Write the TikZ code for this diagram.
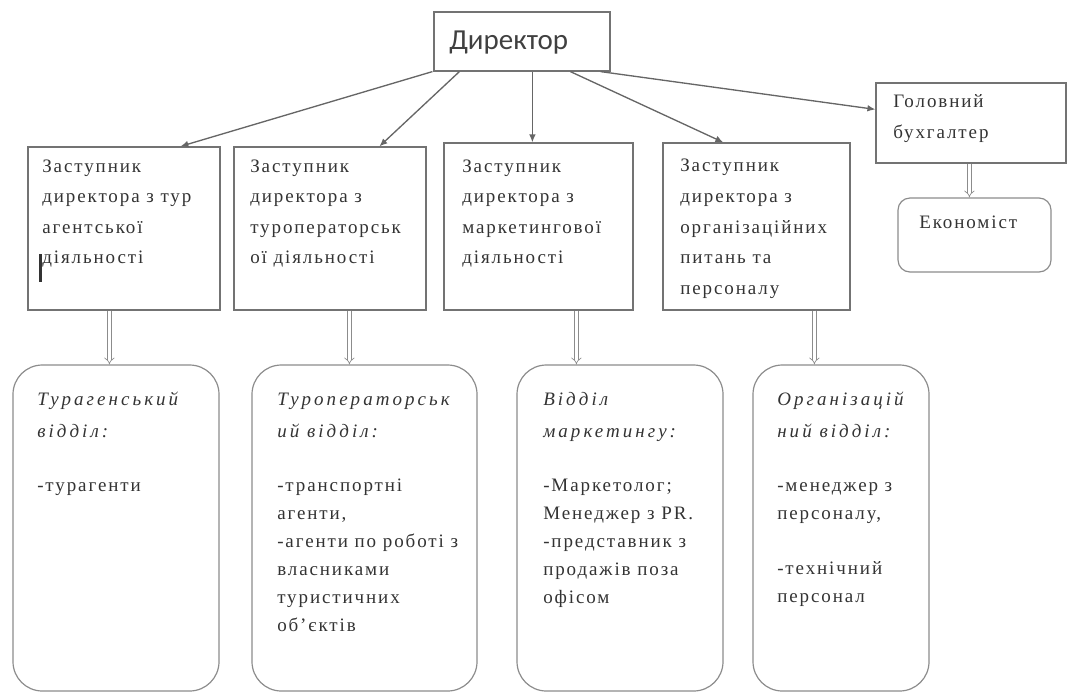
\documentclass[tikz,border=0pt]{standalone}
\usepackage{fontspec}
\setmainfont{Liberation Serif}
\newfontfamily\boxfont{Liberation Serif}[LetterSpace=10]
\newfontfamily\hdfont{Liberation Serif}[LetterSpace=16]
\newfontfamily\headfont{Carlito}
\newcommand{\hd}[1]{{\hdfont\itshape #1}}
\usetikzlibrary{arrows.meta}
\tikzset{%
    box/.style={draw=black!55,line width=0.9pt,inner sep=0pt},
    rbox/.style={draw=black!45,line width=0.9pt,rounded corners=22pt,inner sep=0pt},
    txt/.style={anchor=base west,inner sep=0pt,align=left,text=black!80,
        font=\boxfont\fontsize{14.25}{22.9}\selectfont},
    ltxt/.style={txt,font=\boxfont\fontsize{14.25}{21}\selectfont},
    arr/.style={draw=black!60,line width=1pt,-{Latex[length=6pt,width=5pt]}},
    dbl/.style={draw=black!45,line width=0.5pt,double=white,double distance=2.2pt,-{Implies}}
}

\begin{document}
\begin{tikzpicture}[x=0.75pt,y=-0.75pt]
        \useasboundingbox (0,0) rectangle (1069,693);

        % top
        \node[box,minimum width=132pt,minimum height=44.25pt] (dir) at (522,41.5){};
        \node[txt,text=black!75,font=\headfont\fontsize{21.75}{26}\selectfont] (dirt) at (449,49){Директор};

        % deputies (text nodes sit on their last baseline)
        \node[box,minimum width=144pt,minimum height=122.25pt] (z1) at (124,228.5){};
        \node[box,minimum width=144pt,minimum height=122.25pt] (z2) at (330,228.5){};
        \node[box,minimum width=141.75pt,minimum height=125.25pt] (z3) at (538.5,226.5){};
        \node[box,minimum width=140.25pt,minimum height=125.25pt] (z4) at (756.5,226.5){};
        \node[box,minimum width=142.5pt,minimum height=60pt] (gb) at (971,123){};
        \node[rbox,rounded corners=9pt,minimum width=114.75pt,minimum height=55.5pt] (ek) at (974.5,235){};

        \node[txt] (z1t) at (42,263.6){Заступник\\директора з тур\\агентської\\діяльності};
        \node[txt] (z2t) at (250,263.6){Заступник\\директора з\\туроператорськ\\ої діяльності};
        \node[txt] (z3t) at (462,263.6){Заступник\\директора з\\маркетингової\\діяльності};
        \node[txt] (z4t) at (680,294.1){Заступник\\директора з\\організаційних\\питань та\\персоналу};
        \node[txt] (gbt) at (893,138.5){Головний\\бухгалтер};
        \node[txt] (ekt) at (919,228){Економіст};

        % departments
        \node[rbox,minimum width=154.5pt,minimum height=244.5pt] (v1) at (116,528){};
        \node[rbox,minimum width=168.75pt,minimum height=244.5pt] (v2) at (364.5,528){};
        \node[rbox,minimum width=154.5pt,minimum height=244.5pt] (v3) at (620,528){};
        \node[rbox,minimum width=132pt,minimum height=244.5pt] (v4) at (841,528){};

        \node[ltxt] (v1t) at (37,491.7){\hd{Турагенський}\\[3pt]\hd{відділ:}\\[20pt]-турагенти};
        \node[ltxt] (v2t) at (277,631.7){\hd{Туроператорськ}\\[3pt]\hd{ий відділ:}\\[20pt]-транспортні\\агенти,\\-агенти по роботі з\\власниками\\туристичних\\об’єктів};
        \node[ltxt] (v3t) at (543,603.7){\hd{Відділ}\\[3pt]\hd{маркетингу:}\\[20pt]-Маркетолог;\\Менеджер з PR.\\-представник з\\продажів поза\\офісом};
        \node[ltxt] (v4t) at (777,602.4){\hd{Організацій}\\[3pt]\hd{ний відділ:}\\[20pt]-менеджер з\\персоналу,\\[20pt]-технічний\\персонал};

        \draw[arr] ([shift={(-1,0)}]dir.south west) -- ([shift={(153,0)}]z1.north west);
        \draw[arr] ([shift={(26,0)}]dir.south west) -- ([shift={(146,0)}]z2.north west);
        \draw[arr] ([shift={(99,0)}]dir.south west) -- ([shift={(89,0)}]z3.north west);
        \draw[arr] ([shift={(137,0)}]dir.south west) -- ([shift={(61,0)}]z4.north west);
        \draw[arr] ([shift={(-10,0)}]dir.south east) -- ([shift={(0,27)}]gb.north west);

        \draw[dbl] ([shift={(82,0)}]z1.south west) -- ([shift={(97,0)}]v1.north west);
        \draw[dbl] ([shift={(116,0)}]z2.south west) -- ([shift={(98,0)}]v2.north west);
        \draw[dbl] ([shift={(133,0)}]z3.south west) -- ([shift={(60,0)}]v3.north west);
        \draw[dbl] ([shift={(152,0)}]z4.south west) -- ([shift={(62,0)}]v4.north west);
        \draw[dbl] ([shift={(94,0)}]gb.south west) -- ([shift={(72,0)}]ek.north west);

        % cursor mark
        \draw[line width=1.8pt,black!80] ([shift={(13,108)}]z1.north west) -- ++(0,28);
    \end{tikzpicture}
\end{document}
